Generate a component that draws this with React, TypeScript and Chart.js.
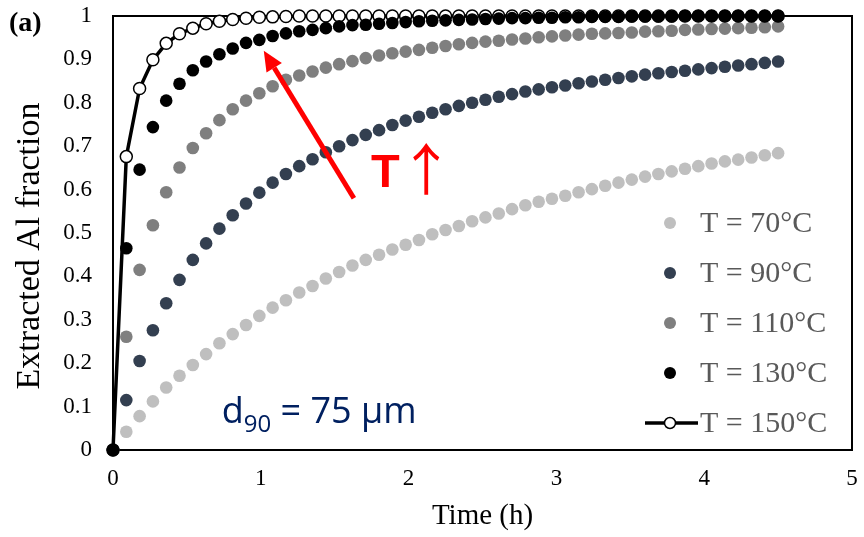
import React, { useEffect, useRef } from "react";
import { Chart, registerables } from "chart.js";

Chart.register(...registerables);

// ---------- data ----------
const timeH = [
  0, 0.09, 0.18, 0.27, 0.36, 0.45, 0.54, 0.63, 0.72, 0.81, 0.9, 0.99, 1.08, 1.17, 1.26, 1.35, 1.44,
  1.53, 1.62, 1.71, 1.8, 1.89, 1.98, 2.07, 2.16, 2.25, 2.34, 2.43, 2.52, 2.61, 2.7, 2.79, 2.88,
  2.97, 3.06, 3.15, 3.24, 3.33, 3.42, 3.51, 3.6, 3.69, 3.78, 3.87, 3.96, 4.05, 4.14, 4.23, 4.32,
  4.41, 4.5,
];

const t70 = [
  0, 0.042, 0.078, 0.112, 0.144, 0.171, 0.196, 0.221, 0.246, 0.267, 0.288, 0.309, 0.328, 0.345,
  0.363, 0.378, 0.395, 0.41, 0.425, 0.438, 0.45, 0.462, 0.473, 0.484, 0.497, 0.507, 0.516, 0.527,
  0.536, 0.545, 0.555, 0.564, 0.572, 0.579, 0.586, 0.594, 0.601, 0.609, 0.616, 0.623, 0.63, 0.636,
  0.642, 0.648, 0.654, 0.66, 0.665, 0.669, 0.674, 0.679, 0.684,
];

const t90 = [
  0, 0.115, 0.205, 0.276, 0.338, 0.392, 0.438, 0.476, 0.51, 0.541, 0.568, 0.593, 0.616, 0.636,
  0.654, 0.67, 0.686, 0.7, 0.714, 0.726, 0.737, 0.749, 0.759, 0.768, 0.777, 0.785, 0.793, 0.8,
  0.807, 0.814, 0.82, 0.826, 0.831, 0.836, 0.84, 0.845, 0.849, 0.853, 0.857, 0.861, 0.865, 0.868,
  0.871, 0.874, 0.877, 0.88, 0.883, 0.886, 0.889, 0.892, 0.895,
];

const t110 = [
  0, 0.261, 0.415, 0.518, 0.594, 0.651, 0.696, 0.73, 0.76, 0.785, 0.805, 0.822, 0.838, 0.853,
  0.863, 0.872, 0.881, 0.889, 0.896, 0.903, 0.909, 0.914, 0.918, 0.922, 0.927, 0.931, 0.935, 0.938,
  0.941, 0.943, 0.946, 0.948, 0.951, 0.953, 0.955, 0.957, 0.959, 0.96, 0.961, 0.962, 0.964, 0.965,
  0.966, 0.968, 0.969, 0.97, 0.971, 0.972, 0.973, 0.974, 0.976,
];

const t130 = [
  0, 0.465, 0.646, 0.744, 0.805, 0.844, 0.875, 0.895, 0.912, 0.925, 0.938, 0.945, 0.954, 0.96,
  0.965, 0.968, 0.972, 0.976, 0.979, 0.98, 0.982, 0.984, 0.986, 0.988, 0.989, 0.99, 0.991, 0.992,
  0.993, 0.994, 0.995, 0.995, 0.996, 0.996, 0.997, 0.997, 0.998, 0.998, 0.998, 0.999, 0.999, 0.999,
  0.999, 1, 1, 1, 1, 1, 1, 1, 1,
];

const t150 = [
  0, 0.676, 0.833, 0.899, 0.937, 0.959, 0.972, 0.982, 0.988, 0.992, 0.995, 0.997, 0.998, 0.999, 1,
  1, 1, 1, 1, 1, 1, 1, 1, 1, 1, 1, 1, 1, 1, 1, 1, 1, 1, 1, 1, 1, 1, 1, 1, 1, 1, 1, 1, 1, 1, 1, 1, 1,
  1, 1, 1,
];

const seriesLabels = ["T = 70°C", "T = 90°C", "T = 110°C", "T = 130°C", "T = 150°C"];
const xTicks = [0, 1, 2, 3, 4, 5];
const xTickLabels = ["0", "1", "2", "3", "4", "5"];
const yTicks = [0, 0.1, 0.2, 0.3, 0.4, 0.5, 0.6, 0.7, 0.8, 0.9, 1];
const yTickLabels = ["0", "0.1", "0.2", "0.3", "0.4", "0.5", "0.6", "0.7", "0.8", "0.9", "1"];

const xTitle = "Time (h)";
const yTitle = "Extracted Al fraction";
const panelLabel = "(a)";

// ---------- styles ----------
const SERIF = "'Liberation Serif', 'Times New Roman', serif";
const SANS = "'Open Sans', 'Liberation Sans', sans-serif";
const colors = ["#bfbfbf", "#333f50", "#7f7f7f", "#000000", "#000000"];

const pts = (ys: number[]) => ys.map((v, i) => ({ x: timeH[i], y: v }));

const zeroPad = (s: any) => {
  s.paddingTop = 0;
  s.paddingBottom = 0;
  s.paddingLeft = 0;
  s.paddingRight = 0;
};

const framePlugin = {
  id: "frame",
  beforeDatasetsDraw(chart: any) {
    const { ctx, chartArea: a } = chart;
    ctx.save();
    ctx.strokeStyle = "#000";
    ctx.lineWidth = 2;
    ctx.strokeRect(a.left, a.top, a.right - a.left, a.bottom - a.top);
    ctx.restore();
  },
};

const textPlugin = {
  id: "texts",
  afterDraw(chart: any) {
    const { ctx, chartArea: a, scales } = chart;
    const xs = scales.x;
    const ys = scales.y;
    ctx.save();

    // panel label
    ctx.fillStyle = "#000";
    ctx.font = `bold 28px ${SERIF}`;
    ctx.textAlign = "left";
    ctx.textBaseline = "alphabetic";
    ctx.fillText(panelLabel, 9, 31);

    // y title
    ctx.save();
    ctx.translate(30, 246);
    ctx.rotate(-Math.PI / 2);
    ctx.font = `34px ${SERIF}`;
    ctx.textAlign = "center";
    ctx.textBaseline = "middle";
    ctx.fillText(yTitle, 0, 0);
    ctx.restore();

    // legend
    const mx = a.right - 182;
    const tx = a.right - 152;
    const rowGap = 50;
    const lastY = a.bottom - 27;
    ctx.font = `30px ${SERIF}`;
    ctx.textAlign = "left";
    ctx.textBaseline = "middle";
    seriesLabels.forEach((lab, i) => {
      const yy = lastY - (seriesLabels.length - 1 - i) * rowGap;
      if (i === 4) {
        ctx.strokeStyle = "#000";
        ctx.lineWidth = 3.5;
        ctx.beginPath();
        ctx.moveTo(mx - 25, yy);
        ctx.lineTo(mx + 28, yy);
        ctx.stroke();
        ctx.beginPath();
        ctx.arc(mx, yy, 5.5, 0, Math.PI * 2);
        ctx.fillStyle = "#fff";
        ctx.fill();
        ctx.lineWidth = 1.5;
        ctx.stroke();
      } else {
        ctx.beginPath();
        ctx.arc(mx, yy, 6, 0, Math.PI * 2);
        ctx.fillStyle = colors[i];
        ctx.fill();
      }
      ctx.fillStyle = "#595959";
      ctx.fillText(lab, tx, yy + 1);
    });

    // red arrow
    const sx = xs.getPixelForValue(1.63);
    const sy = ys.getPixelForValue(0.58);
    const ex = xs.getPixelForValue(1.02);
    const ey = ys.getPixelForValue(0.92);
    const ang = Math.atan2(ey - sy, ex - sx);
    const headLen = 20;
    const headHalf = 9;
    const bx = ex - headLen * Math.cos(ang);
    const by = ey - headLen * Math.sin(ang);
    ctx.strokeStyle = "#ff0000";
    ctx.fillStyle = "#ff0000";
    ctx.lineWidth = 5;
    ctx.beginPath();
    ctx.moveTo(sx, sy);
    ctx.lineTo(bx, by);
    ctx.stroke();
    ctx.beginPath();
    ctx.moveTo(ex, ey);
    ctx.lineTo(bx + headHalf * Math.sin(ang), by - headHalf * Math.cos(ang));
    ctx.lineTo(bx - headHalf * Math.sin(ang), by + headHalf * Math.cos(ang));
    ctx.closePath();
    ctx.fill();

    // T and up arrow
    ctx.font = `bold 47px 'Liberation Sans', sans-serif`;
    ctx.textAlign = "left";
    ctx.textBaseline = "alphabetic";
    ctx.fillText("T", xs.getPixelForValue(1.745), ys.getPixelForValue(0.606));
    ctx.font = `56px 'Noto Sans CJK JP', sans-serif`;
    ctx.textAlign = "center";
    ctx.fillText("↑", xs.getPixelForValue(2.12), ys.getPixelForValue(0.6));

    // d90 text
    ctx.fillStyle = "#002060";
    let px = xs.getPixelForValue(0.735);
    const base = ys.getPixelForValue(0.062);
    ctx.textAlign = "left";
    ctx.font = `36px ${SANS}`;
    ctx.fillText("d", px, base);
    px += ctx.measureText("d").width;
    ctx.font = `24px ${SANS}`;
    ctx.fillText("90", px, base + 9);
    px += ctx.measureText("90").width;
    ctx.font = `36px ${SANS}`;
    ctx.fillText(" = 75 µm", px, base);

    ctx.restore();
  },
};

export default function App() {
  const ref = useRef<HTMLCanvasElement>(null);
  useEffect(() => {
    document.body.style.margin = "0";
    const canvas = ref.current!;
    const chart = new Chart(canvas, {
      type: "scatter",
      data: {
        datasets: [
          {
            label: seriesLabels[0],
            data: pts(t70),
            showLine: false,
            pointRadius: 6.3,
            pointBorderWidth: 0,
            pointBackgroundColor: colors[0],
            pointBorderColor: colors[0],
            order: 4,
            clip: false,
          },
          {
            label: seriesLabels[1],
            data: pts(t90),
            showLine: false,
            pointRadius: 6.3,
            pointBorderWidth: 0,
            pointBackgroundColor: colors[1],
            pointBorderColor: colors[1],
            order: 3,
            clip: false,
          },
          {
            label: seriesLabels[2],
            data: pts(t110),
            showLine: false,
            pointRadius: 6.3,
            pointBorderWidth: 0,
            pointBackgroundColor: colors[2],
            pointBorderColor: colors[2],
            order: 2,
            clip: false,
          },
          {
            label: seriesLabels[3],
            data: pts(t130),
            showLine: false,
            pointRadius: 6.3,
            pointBorderWidth: 0,
            pointBackgroundColor: colors[3],
            pointBorderColor: colors[3],
            order: 0,
            clip: false,
          },
          {
            label: seriesLabels[4],
            data: pts(t150),
            showLine: true,
            borderColor: "#000",
            borderWidth: 3.5,
            tension: 0,
            pointRadius: 6,
            pointBorderWidth: 1.5,
            pointBackgroundColor: "#fff",
            pointBorderColor: "#000",
            order: 1,
            clip: false,
          },
        ] as any,
      },
      options: {
        responsive: false,
        animation: false,
        layout: { padding: { left: 0, right: 12, top: 16, bottom: 0 } },
        plugins: { legend: { display: false }, tooltip: { enabled: false } },
        scales: {
          x: {
            type: "linear",
            min: 0,
            max: 5,
            afterFit: (s: any) => {
              s.height = 87;
              zeroPad(s);
            },
            afterBuildTicks: (s: any) => {
              s.ticks = xTicks.map((v) => ({ value: v }));
            },
            grid: { display: false, drawTicks: false },
            border: { display: false },
            ticks: {
              padding: 15,
              color: "#000",
              font: { family: SERIF, size: 23 },
              callback: (v: any) => xTickLabels[xTicks.indexOf(Number(v))] ?? "",
            },
            title: {
              display: true,
              text: xTitle,
              color: "#000",
              font: { family: SERIF, size: 29 },
              padding: { top: 0, bottom: 3 },
            },
          },
          y: {
            type: "linear",
            min: 0,
            max: 1,
            afterFit: (s: any) => {
              s.width = 113;
              zeroPad(s);
            },
            afterBuildTicks: (s: any) => {
              s.ticks = yTicks.map((v) => ({ value: v }));
            },
            grid: { display: false, drawTicks: false },
            border: { display: false },
            ticks: {
              padding: 21,
              color: "#000",
              font: { family: SERIF, size: 23 },
              callback: (v: any) => {
                const idx = yTicks.findIndex((t) => Math.abs(t - Number(v)) < 1e-9);
                return idx >= 0 ? yTickLabels[idx] : "";
              },
            },
          },
        },
      },
      plugins: [framePlugin, textPlugin],
    });
    return () => chart.destroy();
  }, []);
  return (
    <div style={{ width: 864, height: 537 }}>
      <canvas ref={ref} width={864} height={537} />
    </div>
  );
}
